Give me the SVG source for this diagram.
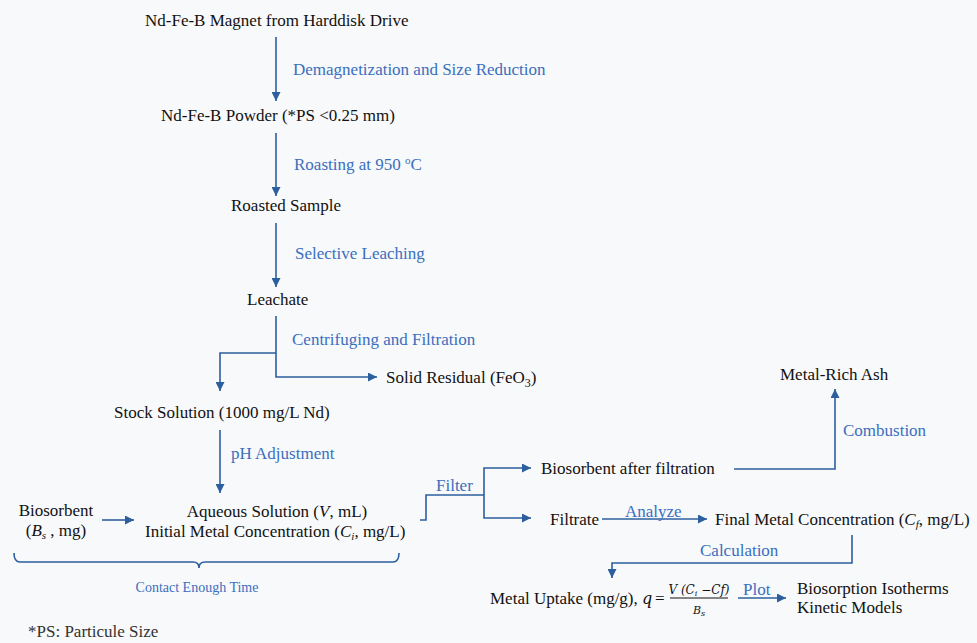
<svg xmlns="http://www.w3.org/2000/svg" width="977" height="643" viewBox="0 0 977 643">
<defs>
<marker id="ah" viewBox="0 0 10 10" refX="10" refY="5" markerWidth="9" markerHeight="9" markerUnits="userSpaceOnUse" orient="auto">
<path d="M0,0 L10,5 L0,10 z" fill="#2d5f9e"/>
</marker>
<style>
.t{font-family:"Liberation Serif","Times New Roman",serif;font-size:17px;fill:#111}
.b{font-family:"Liberation Serif","Times New Roman",serif;font-size:17px;fill:#3a6fbe}
.s{font-size:14px}
.l{fill:none;stroke:#2d5f9e;stroke-width:1.6}
.a{fill:none;stroke:#2d5f9e;stroke-width:1.6;marker-end:url(#ah)}
.m{font-family:"DejaVu Serif",serif;font-style:italic;fill:#111}
</style>
</defs>
<rect width="977" height="643" fill="#f8f9fb"/>
<g id="connectors">
<line class="a" x1="276" y1="37" x2="276" y2="101"/>
<line class="a" x1="276" y1="133" x2="276" y2="196"/>
<line class="a" x1="276" y1="223" x2="276" y2="287"/>
<polyline class="a" points="276,316 276,377 377,377"/>
<polyline class="a" points="276,353 220,353 220,391"/>
<line class="a" x1="220" y1="430" x2="220" y2="493"/>
<line class="a" x1="102" y1="520" x2="134" y2="520"/>
<polyline class="l" points="420,520 426,520 426,495 484,495"/>
<polyline class="a" points="484,495 484,468 531,468"/>
<polyline class="a" points="484,495 484,518 531,518"/>
<polyline class="a" points="734,469 835,469 835,389"/>
<line class="a" x1="602" y1="519" x2="707" y2="519"/>
<polyline class="a" points="852,535 852,563 612,563 612,578"/>
<line class="a" x1="738" y1="598" x2="786" y2="598"/>
<path class="l" d="M14,553 Q14,562 20,562 L193,562 Q199,562 199,568 Q199,562 205,562 L393,562 Q399,562 399,553"/>
</g>
<g id="n-magnet"><text class="t" x="145" y="26">Nd-Fe-B Magnet from Harddisk Drive</text></g>
<g id="l-demag"><text class="b" x="293" y="75">Demagnetization and Size Reduction</text></g>
<g id="n-powder"><text class="t" x="161" y="121">Nd-Fe-B Powder (*PS &lt;0.25 mm)</text></g>
<g id="l-roast"><text class="b" x="294" y="170">Roasting at 950 <tspan font-size="11" dy="-6">o</tspan><tspan dy="6">C</tspan></text></g>
<g id="n-roasted"><text class="t" x="231" y="211">Roasted Sample</text></g>
<g id="l-leach"><text class="b" x="295" y="259">Selective Leaching</text></g>
<g id="n-leachate"><text class="t" x="247" y="305">Leachate</text></g>
<g id="l-centri"><text class="b" x="292" y="345">Centrifuging and Filtration</text></g>
<g id="n-solid"><text class="t" x="386" y="383">Solid Residual (FeO<tspan font-size="12" dy="4">3</tspan><tspan dy="-4">)</tspan></text></g>
<g id="n-stock"><text class="t" x="114" y="418">Stock Solution (1000 mg/L Nd)</text></g>
<g id="l-ph"><text class="b" x="231" y="459">pH Adjustment</text></g>
<g id="n-biosorbent"><text class="t" x="56" y="516" text-anchor="middle">Biosorbent</text><text class="t" x="56" y="536" text-anchor="middle">(<tspan font-style="italic">B<tspan font-size="11" dy="3">s</tspan></tspan><tspan dy="-3"> , mg)</tspan></text></g>
<g id="n-aqueous"><text class="t" x="277" y="517" text-anchor="middle">Aqueous Solution (<tspan font-style="italic">V</tspan>, mL)</text><text class="t" x="145" y="537">Initial Metal Concentration  (<tspan font-style="italic">C<tspan font-size="11" dy="3">i</tspan></tspan><tspan dy="-3">, mg/L)</tspan></text></g>
<g id="l-contact"><text class="b s" x="197" y="592" text-anchor="middle">Contact Enough Time</text></g>
<g id="n-ps"><text class="t" x="28" y="637" style="fill:#333">*PS: Particule Size</text></g>
<g id="l-filter"><text class="b" x="436" y="491">Filter</text></g>
<g id="n-bioafter"><text class="t" x="541" y="474">Biosorbent after filtration</text></g>
<g id="n-ash"><text class="t" x="780" y="380">Metal-Rich Ash</text></g>
<g id="l-combustion"><text class="b" x="843" y="436">Combustion</text></g>
<g id="n-filtrate"><text class="t" x="550" y="525">Filtrate</text></g>
<g id="l-analyze"><text class="b" x="625" y="517">Analyze</text></g>
<g id="n-final"><text class="t" x="715" y="525">Final Metal Concentration (<tspan font-style="italic">C<tspan font-size="11" dy="3">f</tspan></tspan><tspan dy="-3">, mg/L)</tspan></text></g>
<g id="l-calc"><text class="b" x="700" y="556">Calculation</text></g>
<g id="n-uptake"><text class="t" x="490" y="604">Metal Uptake (mg/g), </text><text class="m" x="642" y="604" font-size="16">q</text><text class="t" x="655" y="604" font-size="19">=</text><text class="m" x="699" y="594" font-size="12" text-anchor="middle">V (C<tspan font-size="8" dy="2">i</tspan><tspan dy="-2"> −Cf)</tspan></text><line x1="670" y1="598" x2="728" y2="598" stroke="#111" stroke-width="1"/><text class="m" x="699" y="614" font-size="11" text-anchor="middle">B<tspan font-size="8" dy="2">s</tspan></text></g>
<g id="l-plot"><text class="b" x="743" y="595">Plot</text></g>
<g id="n-models"><text class="t" x="797" y="594">Biosorption Isotherms</text><text class="t" x="797" y="613">Kinetic Models</text></g>
</svg>
